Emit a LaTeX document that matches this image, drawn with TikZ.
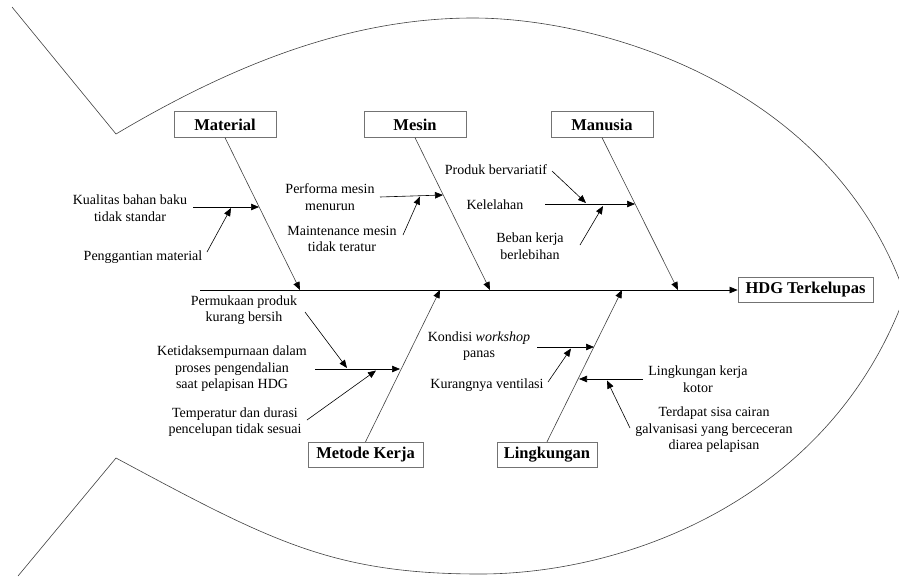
\documentclass[tikz,border=0pt]{standalone}
\usepackage{fontspec}
\setmainfont{Liberation Serif}
\usetikzlibrary{arrows.meta}

\tikzset{
	kotak/.style={draw=black!55, line width=0.8pt, font=\bfseries\fontsize{16.5}{18}\selectfont,
		minimum height=25.5pt, inner xsep=6pt, inner ysep=0pt},
	kotakatas/.style={kotak, minimum width=102pt},
	sebab/.style={font=\fontsize{14}{16.5}\selectfont, align=center, inner sep=0pt},
	tulang/.style={draw=black!75, line width=0.6pt},
	panah/.style={->, line width=0.6pt}
}

\begin{document}
\begin{tikzpicture}[x=1pt,y=-1pt,>={Triangle[length=8pt,width=6.5pt,color=black]}]
\useasboundingbox (0,0) rectangle (899,576);
\clip (0,0) rectangle (899,576);

%========================================
% Fish outline
%========================================
\draw[tulang] (12,7) -- (116,134)
	.. controls (233,64.5) and (350,18) .. (473,18)
	.. controls (601.5,18) and (832.5,85.4) .. (905,295);
\draw[tulang] (18,576) -- (116,458)
	.. controls (270,540.6) and (332,574) .. (480,574)
	.. controls (627,574) and (830.8,499) .. (905,295);

%========================================
% Head and spine
%========================================
\node[kotak, minimum width=135pt] (hdg) at (805.5,290) {HDG Terkelupas};
\coordinate (ekor) at (200,290);
\draw[panah] (ekor) -- (hdg.west);

% points where the bones meet the spine
\coordinate (m0) at (300,290);
\coordinate (s0) at (490,290);
\coordinate (n0) at (678,290);
\coordinate (k0) at (440,290);
\coordinate (l0) at (622,290);

%========================================
% Category boxes and main bones
%========================================
\node[kotakatas] (material) at (225,124.5) {Material};
\node[kotakatas] (mesin) at (415,124.5) {Mesin};
\node[kotakatas] (manusia) at (602,124.5) {Manusia};
\node[kotak, minimum width=115pt] (metode) at (365.5,455) {Metode Kerja};
\node[kotak, minimum width=100pt] (lingkungan) at (547,455) {Lingkungan};

\draw[panah,tulang] (material.south) -- (m0);
\draw[panah,tulang] (mesin.south) -- (s0);
\draw[panah,tulang] (manusia.south) -- (n0);
\draw[panah,tulang] (metode.north) -- (k0);
\draw[panah,tulang] (lingkungan.north) -- (l0);

%========================================
% Material
%========================================
\node[sebab] (kualitas) at (130,208) {Kualitas bahan baku\\tidak standar};
\node[sebab] (penggantian) at (143,257) {Penggantian material};
\coordinate (m1a) at (193,207);
\coordinate (m1) at (259,207);
\coordinate (m2a) at (207,252);
\coordinate (m2) at (231,208);
\draw[panah] (m1a) -- (m1);
\draw[panah] (m2a) -- (m2);

%========================================
% Mesin
%========================================
\node[sebab] (performa) at (330,197) {Performa mesin\\menurun};
\node[sebab] (maintenance) at (342,239) {Maintenance mesin\\tidak teratur};
\coordinate (s1a) at (380,197);
\coordinate (s1) at (443,195);
\coordinate (s2a) at (403,235);
\coordinate (s2) at (420,196.5);
\draw[panah] (s1a) -- (s1);
\draw[panah] (s2a) -- (s2);

%========================================
% Manusia
%========================================
\node[sebab] (produk) at (496,170) {Produk bervariatif};
\node[sebab] (kelelahan) at (495,205) {Kelelahan};
\node[sebab] (beban) at (530,246) {Beban kerja\\berlebihan};
\coordinate (n1a) at (552,171);
\coordinate (n1) at (586,203);
\coordinate (n2a) at (545,204);
\coordinate (n2) at (635,204);
\coordinate (n3a) at (580,245);
\coordinate (n3) at (603,206);
\draw[panah] (n1a) -- (n1);
\draw[panah] (n2a) -- (n2);
\draw[panah] (n3a) -- (n3);

%========================================
% Metode Kerja
%========================================
\node[sebab] (permukaan) at (244,310) {Permukaan produk\\kurang bersih};
\node[sebab] (ketidak) at (232,369) {Ketidaksempurnaan dalam\\proses pengendalian\\saat pelapisan HDG};
\node[sebab] (temperatur) at (235,422) {Temperatur dan durasi\\pencelupan tidak sesuai};
\coordinate (k1a) at (305,312);
\coordinate (k1) at (347,368);
\coordinate (k2a) at (315,369);
\coordinate (k2) at (400,369);
\coordinate (k3a) at (307,420);
\coordinate (k3) at (376,370.5);
\draw[panah] (k1a) -- (k1);
\draw[panah] (k2a) -- (k2);
\draw[panah] (k3a) -- (k3);

%========================================
% Lingkungan
%========================================
\node[sebab] (kondisi) at (479,346) {Kondisi \textit{workshop}\\panas};
\node[sebab] (ventilasi) at (487,385) {Kurangnya ventilasi};
\node[sebab] (kotor) at (698,379) {Lingkungan kerja\\kotor};
\node[sebab] (cairan) at (714,430) {Terdapat sisa cairan\\galvanisasi yang berceceran\\diarea pelapisan};
\coordinate (l1a) at (537,347);
\coordinate (l1) at (594,347);
\coordinate (l2a) at (548,382);
\coordinate (l2) at (571,348.5);
\coordinate (l3a) at (643,379);
\coordinate (l3) at (579,379);
\coordinate (l4a) at (630,428);
\coordinate (l4) at (607,380.5);
\draw[panah] (l1a) -- (l1);
\draw[panah] (l2a) -- (l2);
\draw[panah] (l3a) -- (l3);
\draw[panah] (l4a) -- (l4);
\end{tikzpicture}
\end{document}
